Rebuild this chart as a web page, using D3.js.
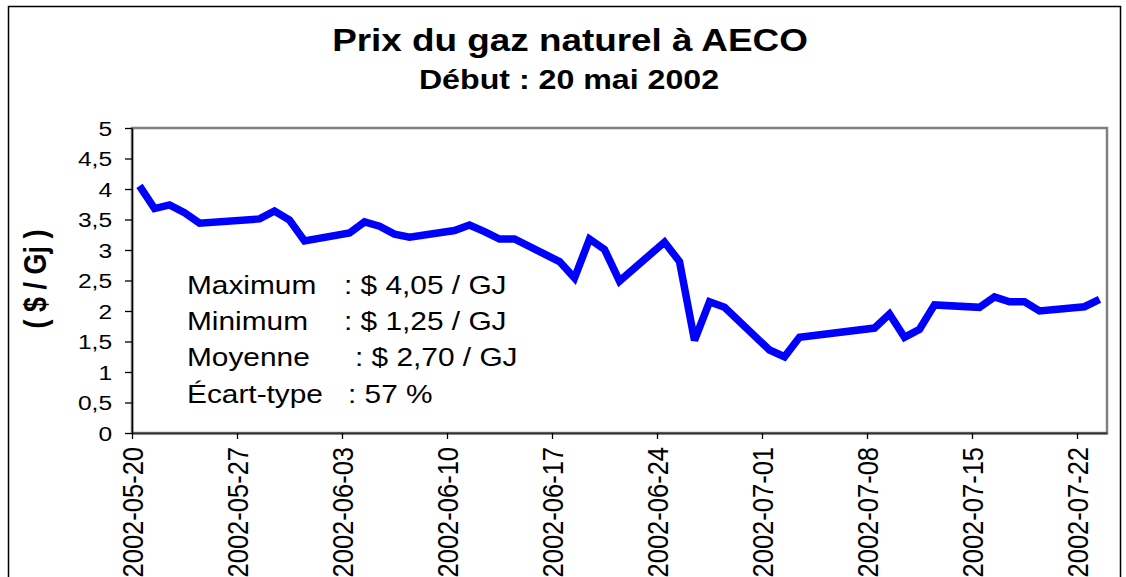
<!DOCTYPE html>
<html><head><meta charset="utf-8">
<script src="https://cdn.jsdelivr.net/npm/d3@7"></script>
<style>
body{margin:0;background:#fff}
svg{display:block}
text{font-family:"Liberation Sans",Arial,Helvetica,sans-serif;fill:#000}
</style>
</head><body>
<svg id="c" width="1126" height="577"></svg>
<script>
// ---------- data ----------
const dates = ["2002-05-20","2002-05-21","2002-05-22","2002-05-23","2002-05-24",
  "2002-05-28","2002-05-29","2002-05-30","2002-05-31",
  "2002-06-03","2002-06-04","2002-06-05","2002-06-06","2002-06-07",
  "2002-06-10","2002-06-11","2002-06-12","2002-06-13","2002-06-14",
  "2002-06-17","2002-06-18","2002-06-19","2002-06-20","2002-06-21",
  "2002-06-24","2002-06-25","2002-06-26","2002-06-27","2002-06-28",
  "2002-07-01","2002-07-02","2002-07-03",
  "2002-07-08","2002-07-09","2002-07-10","2002-07-11","2002-07-12",
  "2002-07-15","2002-07-16","2002-07-17","2002-07-18","2002-07-19",
  "2002-07-22","2002-07-23"];
const prices = [4.05,3.68,3.74,3.61,3.44,
  3.51,3.64,3.49,3.15,
  3.28,3.46,3.39,3.26,3.21,
  3.32,3.41,3.30,3.18,3.18,
  2.81,2.54,3.18,3.01,2.49,
  3.13,2.81,1.52,2.15,2.06,
  1.36,1.25,1.57,
  1.72,1.95,1.57,1.70,2.10,
  2.06,2.23,2.15,2.15,2.00,
  2.07,2.19];
const yTicks = [0,0.5,1,1.5,2,2.5,3,3.5,4,4.5,5];
const xTickDates = ["2002-05-20","2002-05-27","2002-06-03","2002-06-10","2002-06-17",
  "2002-06-24","2002-07-01","2002-07-08","2002-07-15","2002-07-22"];
const xDomain = ["2002-05-20","2002-07-24"];
const titleText = "Prix du gaz naturel à AECO";
const subtitleText = "Début : 20 mai 2002";
const yTitleText = "( $ / Gj )";
const statLabels = ["Maximum","Minimum","Moyenne","Écart-type"];
const statValues = [": $ 4,05 / GJ",": $ 1,25 / GJ",": $ 2,70 / GJ",": 57 %"];

// ---------- layout ----------
const SX = 1.17; // horizontal stretch of the original rendering
const parse = d3.utcParse("%Y-%m-%d");
const svg = d3.select("#c");
svg.append("rect").attr("width",1126).attr("height",577).attr("fill","#fff");
svg.append("rect").attr("x",8.5).attr("y",6.5).attr("width",1112).attr("height",640)
  .attr("fill","none").attr("stroke","#000").attr("stroke-width",1.5);

const L=132, R=1107, T=128, B=433;
const x = d3.scaleUtc().domain(xDomain.map(parse)).range([L,R]);
const y = d3.scaleLinear().domain([0,5]).range([B,T]);

// plot area border
svg.append("rect").attr("x",L).attr("y",T).attr("width",R-L).attr("height",B-T)
  .attr("fill","#fff").attr("stroke","#808080").attr("stroke-width",2.5);

// y axis
const yAx = svg.append("g").attr("transform",`translate(${L},0)`)
  .call(d3.axisLeft(y).tickValues(yTicks).tickSize(7).tickSizeOuter(0)
    .tickFormat(d => String(d).replace(".",",")));
yAx.select(".domain").attr("stroke","#000").attr("stroke-width",1.5);
yAx.selectAll(".tick line").attr("stroke","#000").attr("stroke-width",1.3);
yAx.selectAll(".tick text")
  .attr("x",-17).attr("dy","0.35em")
  .attr("transform",`scale(${SX},1)`)
  .style("font-size","21px").style("font-family","'Liberation Sans',Arial,sans-serif").attr("fill","#000");

// x axis
const xAx = svg.append("g").attr("transform",`translate(0,${B})`)
  .call(d3.axisBottom(x).tickValues(xTickDates.map(parse)).tickSize(6).tickSizeOuter(0)
    .tickFormat(d3.utcFormat("%Y-%m-%d")));
xAx.select(".domain").attr("stroke","#333").attr("stroke-width",2);
xAx.selectAll(".tick line").attr("stroke","#000").attr("stroke-width",1.3);
xAx.selectAll(".tick text")
  .attr("x",0).attr("y",0).attr("dy","0.35em")
  .attr("text-anchor","end")
  .attr("transform",`translate(0,14) scale(${SX},1) rotate(-90)`)
  .style("font-size","25.5px").style("font-family","'Liberation Sans',Arial,sans-serif").attr("fill","#000");

// line
const pts = dates.map((d,i)=>({date:d3.utcHour.offset(parse(d),12), v:prices[i]}));
svg.append("path").datum(pts)
  .attr("fill","none").attr("stroke","#0000ff").attr("stroke-width",7.5)
  .attr("stroke-linejoin","miter").attr("stroke-miterlimit",2)
  .attr("d", d3.line().x(d=>x(d.date)).y(d=>y(d.v)));

// titles
svg.append("text").attr("transform",`translate(570,51) scale(${SX},1)`)
  .attr("text-anchor","middle").style("font-weight","bold").style("font-size","31.5px")
  .text(titleText);
svg.append("text").attr("transform",`translate(569,89) scale(${SX},1)`)
  .attr("text-anchor","middle").style("font-weight","bold").style("font-size","27.5px")
  .text(subtitleText);
svg.append("text").attr("transform",`translate(46,279) scale(${SX},1) rotate(-90)`)
  .attr("text-anchor","middle").style("font-weight","bold").style("font-size","27px")
  .attr("xml:space","preserve")
  .text(yTitleText);

// stats block
const statBase = [294,330,366,403];
const valueX = [344,344,355,348];
statLabels.forEach((s,i)=>{
  svg.append("text").attr("transform",`translate(187,${statBase[i]}) scale(${SX},1)`)
    .style("font-size","25.5px").text(s);
  svg.append("text").attr("transform",`translate(${valueX[i]},${statBase[i]}) scale(${SX},1)`)
    .style("font-size","25.5px").text(statValues[i]);
});
</script>
</body></html>
